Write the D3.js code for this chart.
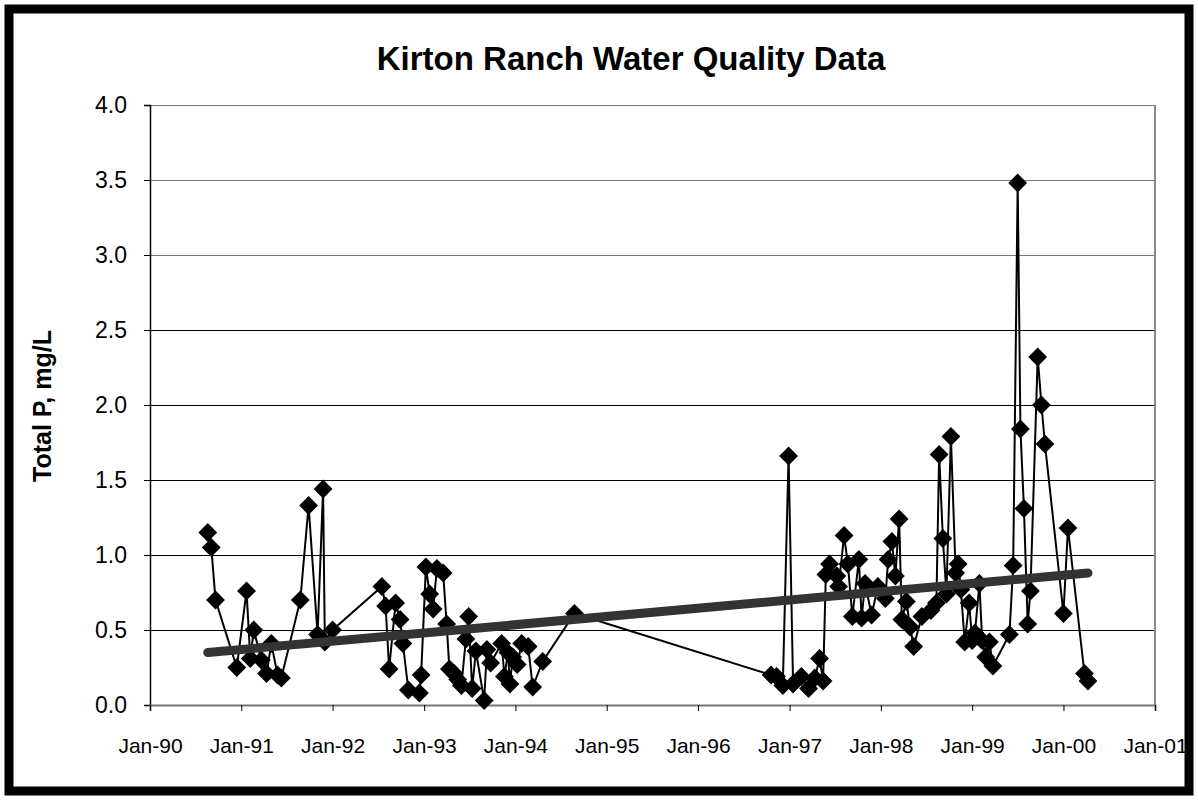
<!DOCTYPE html>
<html>
<head>
<meta charset="utf-8">
<script src="https://cdn.jsdelivr.net/npm/d3@7"></script>
<style>
  html, body { margin: 0; padding: 0; background: #fff; }
  svg { display: block; }
  text { font-family: "Liberation Sans", Arial, sans-serif; fill: #000; }
</style>
</head>
<body>
<svg id="chart" width="1198" height="800"></svg>
<script>
// sample dates and total phosphorus (mg/L)
const sampleDates = [
  "1990-08-20", "1990-09-03", "1990-09-20", "1990-12-14", "1991-01-22", "1991-02-06",
  "1991-02-20", "1991-03-22", "1991-04-12", "1991-05-01", "1991-05-26", "1991-06-10",
  "1991-08-25", "1991-09-27", "1991-11-02", "1991-11-24", "1991-12-01", "1992-01-01",
  "1992-07-16", "1992-07-31", "1992-08-14", "1992-09-09", "1992-09-27", "1992-10-08",
  "1992-10-30", "1992-12-13", "1992-12-20", "1993-01-08", "1993-01-23", "1993-02-06",
  "1993-02-21", "1993-03-18", "1993-04-01", "1993-04-12", "1993-05-01", "1993-05-15",
  "1993-05-30", "1993-06-17", "1993-06-28", "1993-07-12", "1993-07-27", "1993-08-29",
  "1993-09-09", "1993-09-24", "1993-11-07", "1993-11-18", "1993-12-02", "1993-12-10",
  "1993-12-21", "1994-01-08", "1994-01-26", "1994-02-21", "1994-03-11", "1994-04-20",
  "1994-08-25",
  "1996-10-19", "1996-11-10", "1996-12-05", "1996-12-28", "1997-01-15", "1997-02-17",
  "1997-03-18", "1997-04-12", "1997-05-01", "1997-05-15", "1997-05-26", "1997-06-10",
  "1997-07-09", "1997-07-16", "1997-08-07", "1997-08-22", "1997-09-09", "1997-10-05",
  "1997-10-16", "1997-10-30", "1997-11-25", "1997-12-20", "1998-01-19", "1998-01-30",
  "1998-02-14", "1998-02-28", "1998-03-15", "1998-03-26", "1998-04-13", "1998-04-28",
  "1998-05-12", "1998-06-14", "1998-07-20", "1998-08-11", "1998-08-22", "1998-09-06",
  "1998-09-20", "1998-10-08", "1998-10-27", "1998-11-06", "1998-11-17", "1998-12-02",
  "1998-12-20", "1999-01-01", "1999-01-12", "1999-01-30", "1999-02-10", "1999-02-24",
  "1999-03-11", "1999-03-25", "1999-05-30", "1999-06-14", "1999-07-02", "1999-07-13",
  "1999-07-27", "1999-08-11", "1999-08-22", "1999-09-20", "1999-10-05", "1999-10-19",
  "2000-01-01", "2000-01-19", "2000-03-25", "2000-04-08"
];

const totalP = [
  1.15, 1.05, 0.70, 0.25, 0.76, 0.31,
  0.50, 0.30, 0.21, 0.41, 0.20, 0.18,
  0.70, 1.33, 0.47, 1.44, 0.42, 0.50,
  0.79, 0.66, 0.24, 0.68, 0.57, 0.41,
  0.10, 0.08, 0.20, 0.92, 0.74, 0.64,
  0.91, 0.88, 0.54, 0.24, 0.21, 0.17,
  0.13, 0.44, 0.59, 0.11, 0.36, 0.03,
  0.37, 0.28, 0.41, 0.19, 0.35, 0.14,
  0.32, 0.27, 0.41, 0.39, 0.12, 0.29,
  0.61,
  0.20, 0.19, 0.13, 1.66, 0.14, 0.19,
  0.11, 0.18, 0.31, 0.16, 0.87, 0.94,
  0.86, 0.79, 1.13, 0.94, 0.59, 0.97,
  0.58, 0.81, 0.60, 0.79, 0.71, 0.97,
  1.09, 0.86, 1.24, 0.57, 0.69, 0.52,
  0.39, 0.59, 0.63, 0.68, 1.67, 1.11,
  0.74, 1.79, 0.88, 0.94, 0.77, 0.42,
  0.68, 0.43, 0.48, 0.81, 0.43, 0.32,
  0.42, 0.26, 0.47, 0.93, 3.48, 1.84,
  1.31, 0.54, 0.76, 2.32, 2.00, 1.74,
  0.61, 1.18, 0.21, 0.16
];

// linear trend line, start and end
const trendDates = ["1990-08-20", "2000-04-08"];
const trendValues = [0.35, 0.88];

const yTicks = [0, 0.5, 1.0, 1.5, 2.0, 2.5, 3.0, 3.5, 4.0];
const xTickYears = [1990, 1991, 1992, 1993, 1994, 1995, 1996, 1997, 1998, 1999, 2000, 2001];

const parse = d3.timeParse("%Y-%m-%d");
const series = sampleDates.map((d, i) => ({ date: parse(d), value: totalP[i] }));
const trend = trendDates.map((d, i) => ({ date: parse(d), value: trendValues[i] }));

const plot = { left: 150, right: 1155, top: 105, bottom: 705 };

const svg = d3.select("#chart");

// outer frame
svg.append("rect")
  .attr("x", 9).attr("y", 9)
  .attr("width", 1180).attr("height", 782)
  .attr("fill", "#fff")
  .attr("stroke", "#000")
  .attr("stroke-width", 9);

const x = d3.scaleTime()
  .domain([new Date(1990, 0, 1), new Date(2001, 0, 1)])
  .range([plot.left, plot.right]);

const y = d3.scaleLinear()
  .domain([0, 4])
  .range([plot.bottom, plot.top]);

// horizontal gridlines
svg.append("g")
  .selectAll("line")
  .data(yTicks.filter(v => v > 0))
  .join("line")
  .attr("x1", plot.left).attr("x2", plot.right)
  .attr("y1", d => Math.round(y(d)) + 0.5)
  .attr("y2", d => Math.round(y(d)) + 0.5)
  .attr("stroke", d => d >= 3 ? "#7a7a7a" : "#000")
  .attr("stroke-width", 1);

// right border of the plot area
svg.append("line")
  .attr("x1", plot.right).attr("x2", plot.right)
  .attr("y1", plot.top).attr("y2", plot.bottom)
  .attr("stroke", "#888")
  .attr("stroke-width", 2);

// y axis
const yAxis = d3.axisLeft(y)
  .tickValues(yTicks)
  .tickFormat(d3.format(".1f"))
  .tickSize(6)
  .tickPadding(17);

const gy = svg.append("g")
  .attr("transform", `translate(${plot.left},0)`)
  .call(yAxis);
gy.select(".domain").attr("stroke", "#000").attr("stroke-width", 1.5);
gy.selectAll(".tick line").attr("stroke", "#000");
gy.selectAll("text")
  .attr("font-size", 23)
  .attr("font-family", "Liberation Sans, Arial, sans-serif")
  .attr("fill", "#000");

// x axis
const xAxis = d3.axisBottom(x)
  .tickValues(xTickYears.map(yr => new Date(yr, 0, 1)))
  .tickFormat(d3.timeFormat("%b-%y"))
  .tickSize(6)
  .tickPadding(27);

const gx = svg.append("g")
  .attr("transform", `translate(0,${plot.bottom})`)
  .call(xAxis);
gx.select(".domain").attr("stroke", "#777").attr("stroke-width", 2);
gx.selectAll(".tick line").attr("stroke", "#000");
gx.selectAll("text")
  .attr("font-size", 21)
  .attr("font-family", "Liberation Sans, Arial, sans-serif")
  .attr("fill", "#000");

// data line
const line = d3.line()
  .x(d => x(d.date))
  .y(d => y(d.value));

svg.append("path")
  .datum(series)
  .attr("d", line)
  .attr("fill", "none")
  .attr("stroke", "#000")
  .attr("stroke-width", 2);

// diamond markers
const diamond = d3.symbol().type(d3.symbolDiamond2).size(225);
svg.append("g")
  .selectAll("path")
  .data(series)
  .join("path")
  .attr("transform", d => `translate(${x(d.date)},${y(d.value)})`)
  .attr("d", diamond)
  .attr("fill", "#000");

// trend line
svg.append("path")
  .datum(trend)
  .attr("d", line)
  .attr("fill", "none")
  .attr("stroke", "#333")
  .attr("stroke-width", 9)
  .attr("stroke-linecap", "round");

// titles
svg.append("text")
  .attr("x", 631).attr("y", 70)
  .attr("text-anchor", "middle")
  .attr("font-size", 33)
  .attr("font-weight", "bold")
  .text("Kirton Ranch Water Quality Data");

svg.append("text")
  .attr("transform", "translate(51,406) rotate(-90)")
  .attr("text-anchor", "middle")
  .attr("font-size", 25)
  .attr("font-weight", "bold")
  .text("Total P, mg/L");
</script>
</body>
</html>
